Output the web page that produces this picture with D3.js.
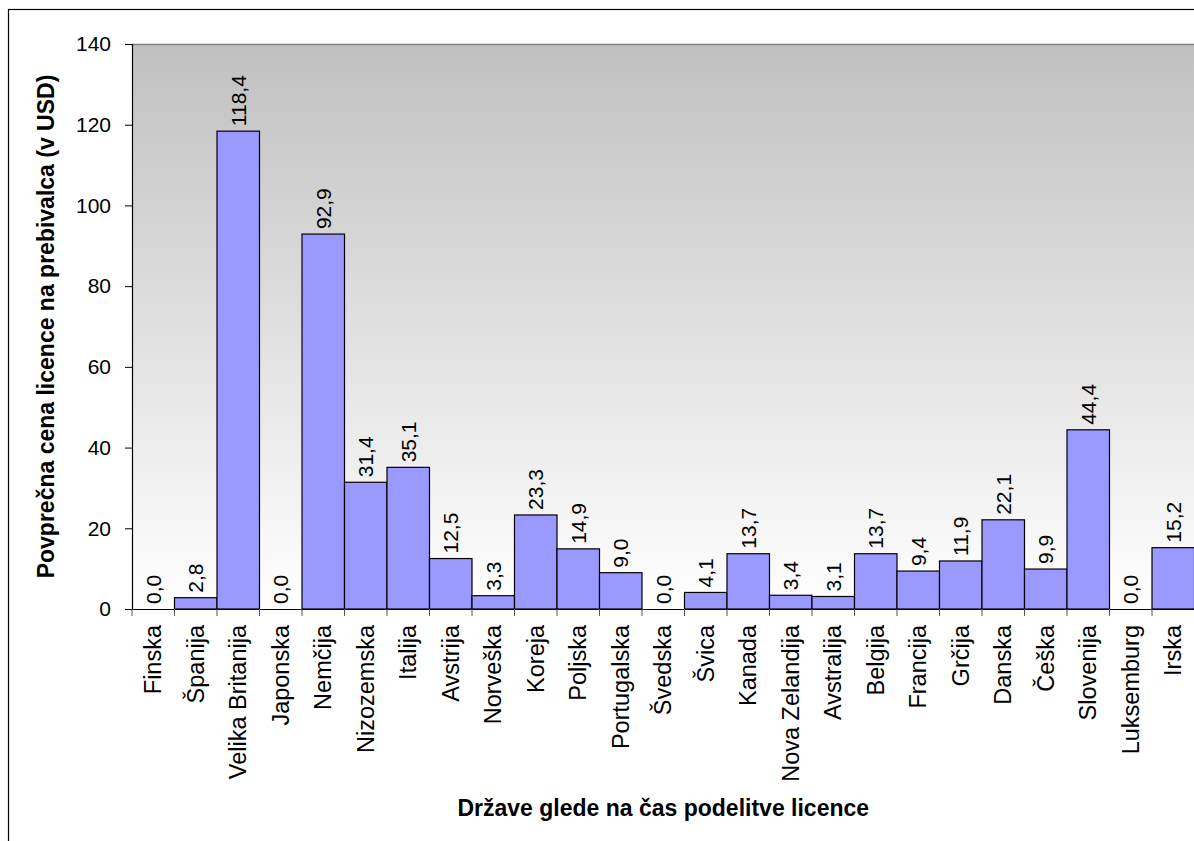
<!DOCTYPE html>
<html><head><meta charset="utf-8">
<script src="https://cdn.jsdelivr.net/npm/d3@7"></script>
<style>body{margin:0;background:#fff}svg{display:block}text{font-family:"Liberation Sans",Arial,sans-serif}</style>
</head><body>
<script>
const categories = ["Finska","Španija","Velika Britanija","Japonska","Nemčija","Nizozemska","Italija","Avstrija","Norveška","Koreja","Poljska","Portugalska","Švedska","Švica","Kanada","Nova Zelandija","Avstralija","Belgija","Francija","Grčija","Danska","Češka","Slovenija","Luksemburg","Irska"];
const values = [0.0,2.8,118.4,0.0,92.9,31.4,35.1,12.5,3.3,23.3,14.9,9.0,0.0,4.1,13.7,3.4,3.1,13.7,9.4,11.9,22.1,9.9,44.4,0.0,15.2];
const yTicks = [0,20,40,60,80,100,120,140];
const yTitle = "Povprečna cena licence na prebivalca (v USD)";
const xTitle = "Države glede na čas podelitve licence";

const W = 1194, H = 841;
const L = 132, R = 1194.5, T = 44, B = 609;
const svg = d3.select("body").append("svg").attr("width", W).attr("height", H);

const defs = svg.append("defs");
const g = defs.append("linearGradient").attr("id","bg").attr("x1",0).attr("y1",0).attr("x2",0).attr("y2",1);
g.append("stop").attr("offset","0%").attr("stop-color","#c0c0c0");
g.append("stop").attr("offset","100%").attr("stop-color","#ffffff");

// outer frame
svg.append("rect").attr("x",8.5).attr("y",9.5).attr("width",1300).attr("height",1000)
  .attr("fill","none").attr("stroke","#000").attr("stroke-width",1.2);

const x = d3.scaleBand().domain(categories).range([L, R]).padding(0);
const y = d3.scaleLinear().domain([0,140]).range([B, T]);

svg.append("rect").attr("x",L).attr("y",T).attr("width",R-L).attr("height",B-T).attr("fill","url(#bg)");
svg.append("line").attr("x1",L).attr("x2",R).attr("y1",T+0.5).attr("y2",T+0.5).attr("stroke","#808080").attr("stroke-width",1.5);

// bars
svg.append("g").selectAll("rect").data(values).join("rect")
  .attr("x",(d,i)=>x(categories[i]))
  .attr("y",d=>y(d))
  .attr("width",x.bandwidth())
  .attr("height",d=>B-y(d))
  .attr("fill","#9999ff").attr("stroke","#000").attr("stroke-width",1.2);

// value labels
svg.append("g").selectAll("text").data(values).join("text")
  .attr("transform",(d,i)=>`translate(${x(categories[i])+x.bandwidth()/2+7.5},${y(d)-5}) rotate(-90)`)
  .attr("text-anchor","start").style("font-size","21px").attr("fill","#000")
  .text(d=>d.toFixed(1).replace(".",","));

// y axis
const ya = svg.append("g").attr("transform",`translate(${L},0)`)
  .call(d3.axisLeft(y).tickValues(yTicks).tickSize(7).tickPadding(14).tickFormat(d3.format("d")));
ya.select(".domain").attr("stroke","#000").attr("stroke-width",1.2);
ya.selectAll(".tick line").attr("stroke","#000");
ya.selectAll(".tick text").style("font-size","21px").attr("fill","#000").style("font-family","Liberation Sans, Arial, sans-serif");

// x axis
const xa = svg.append("g").attr("transform",`translate(0,${B})`)
  .call(d3.axisBottom(x).tickSize(0).tickFormat(""));
xa.select(".domain").attr("stroke","#000").attr("stroke-width",1.2);
// band boundary ticks
const bounds = categories.map(c=>x(c)).concat([R]);
svg.append("g").selectAll("line").data(bounds).join("line")
  .attr("x1",d=>d).attr("x2",d=>d).attr("y1",B).attr("y2",B+7)
  .attr("stroke","#555").attr("stroke-width",1);
// category labels
svg.append("g").selectAll("text").data(categories).join("text")
  .attr("transform",d=>`translate(${x(d)+x.bandwidth()/2+8},${B+16}) rotate(-90)`)
  .attr("text-anchor","end").style("font-size","23.5px").attr("fill","#000")
  .text(d=>d);

// titles
svg.append("text").attr("transform",`translate(54,${(T+B)/2}) rotate(-90)`)
  .attr("text-anchor","middle").style("font-size","23px").attr("font-weight","bold").text(yTitle);
svg.append("text").attr("x",(L+R)/2).attr("y",816)
  .attr("text-anchor","middle").style("font-size","23px").attr("font-weight","bold").text(xTitle);
</script>
</body></html>
